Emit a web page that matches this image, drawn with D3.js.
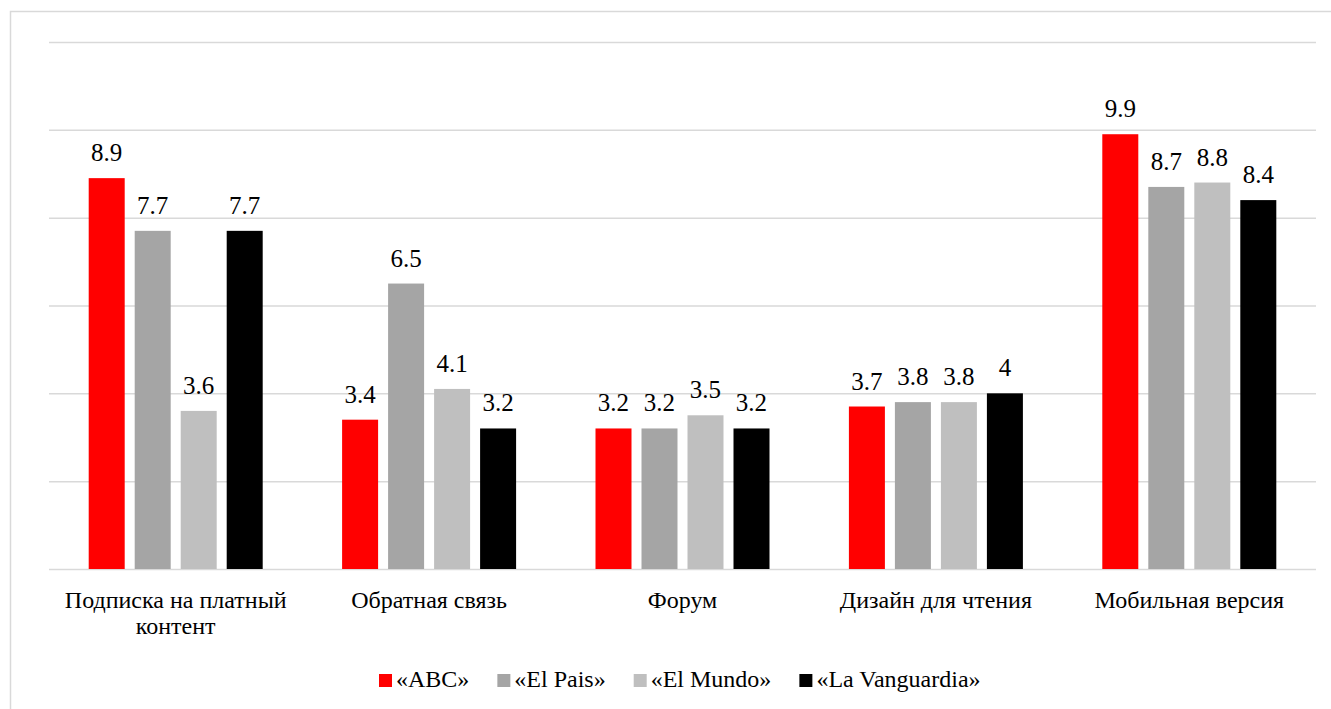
<!DOCTYPE html>
<html>
<head>
<meta charset="utf-8">
<script src="https://cdn.jsdelivr.net/npm/d3@7"></script>
<style>
  body { margin: 0; background: #fff; }
  text { font-family: "Liberation Serif", "Times New Roman", serif; fill: #000; }
</style>
</head>
<body>
<div id="chart" style="width:1331px;height:709px;"></div>
<script>
var categories = ["Подписка на платный контент", "Обратная связь", "Форум", "Дизайн для чтения", "Мобильная версия"];
var seriesNames = ["«ABC»", "«El Pais»", "«El Mundo»", "«La Vanguardia»"];
var seriesColors = ["#FF0000", "#A5A5A5", "#BFBFBF", "#000000"];
var abc = [8.9, 3.4, 3.2, 3.7, 9.9];
var elPais = [7.7, 6.5, 3.2, 3.8, 8.7];
var elMundo = [3.6, 4.1, 3.5, 3.8, 8.8];
var laVanguardia = [7.7, 3.2, 3.2, 4, 8.4];
var yTicks = [0, 2, 4, 6, 8, 10, 12];

var seriesValues = [abc, elPais, elMundo, laVanguardia];
var serif = '"Liberation Serif", "Times New Roman", serif';

var margin = { top: 42, right: 15, bottom: 140, left: 49 };
var W = 1331, H = 709;
var width = W - margin.left - margin.right,
    height = H - margin.top - margin.bottom;

var svg = d3.select("#chart").append("svg")
    .attr("width", W)
    .attr("height", H)
    .attr("font-family", serif);

// outer frame
svg.append("rect")
    .attr("x", 10.5).attr("y", 11.5)
    .attr("width", W).attr("height", H)
    .style("fill", "none")
    .style("stroke", "#D9D9D9")
    .style("stroke-width", 1.5);

var g = svg.append("g")
    .attr("transform", "translate(" + margin.left + "," + margin.top + ")");

var x0 = d3.scaleBand().domain(d3.range(categories.length)).range([0, width]);
var groupHalf = 87;
var x1 = d3.scaleBand().domain(d3.range(seriesNames.length))
    .range([x0.bandwidth() / 2 - groupHalf, x0.bandwidth() / 2 + groupHalf])
    .paddingInner(10 / 46).paddingOuter(0);
var y = d3.scaleLinear().domain([0, 12]).range([height, 0]);

// gridlines
g.append("g").attr("class", "grid")
    .call(d3.axisLeft(y).tickValues(yTicks).tickSize(-width).tickFormat(""))
    .call(function (s) {
        s.select(".domain").remove();
        s.selectAll("line").style("stroke", "#D9D9D9").style("stroke-width", 1.5);
    });

var groups = g.selectAll(".cat")
    .data(categories)
    .enter().append("g")
    .attr("class", "cat")
    .attr("transform", function (d, i) { return "translate(" + x0(i) + ",0)"; });

groups.each(function (c, ci) {
    var gg = d3.select(this);
    var vals = seriesValues.map(function (s, si) { return { si: si, v: s[ci] }; });
    gg.selectAll("rect")
        .data(vals)
        .enter().append("rect")
        .attr("x", function (d) { return x1(d.si); })
        .attr("y", function (d) { return y(d.v); })
        .attr("width", x1.bandwidth())
        .attr("height", function (d) { return height - y(d.v); })
        .style("fill", function (d) { return seriesColors[d.si]; });
    gg.selectAll("text.val")
        .data(vals)
        .enter().append("text")
        .attr("class", "val")
        .attr("x", function (d) { return x1(d.si) + x1.bandwidth() / 2; })
        .attr("y", function (d) { return y(d.v) - 17; })
        .style("text-anchor", "middle")
        .style("font-family", serif)
        .style("font-size", "25px")
        .text(function (d) { return d.v; });
});

// category labels (x axis)
var xAxis = g.append("g")
    .attr("transform", "translate(0," + height + ")")
    .call(d3.axisBottom(x0).tickSize(0).tickFormat(function (i) { return categories[i]; }));
xAxis.attr("font-family", serif).attr("font-size", 24);
xAxis.select(".domain").remove();
xAxis.selectAll("text")
    .style("font-size", "24px")
    .style("font-family", serif)
    .attr("y", 39).attr("dy", 0)
    .each(function () { wrap(d3.select(this), x0.bandwidth() - 10, 26); });

function wrap(text, w, lh) {
    var words = text.text().split(/\s+/), line = [];
    var yy = text.attr("y");
    text.text(null);
    var tspan = text.append("tspan").attr("x", 0).attr("y", yy);
    var n = 0;
    words.forEach(function (word) {
        line.push(word);
        tspan.text(line.join(" "));
        if (tspan.node().getComputedTextLength() > w && line.length > 1) {
            line.pop();
            tspan.text(line.join(" "));
            line = [word];
            n++;
            tspan = text.append("tspan").attr("x", 0).attr("y", +yy + n * lh).text(word);
        }
    });
}

// legend
var legend = svg.append("g").attr("class", "legend");
var lx = 0;
var items = legend.selectAll("g")
    .data(seriesNames)
    .enter().append("g");
items.append("rect")
    .attr("y", -13).attr("width", 13).attr("height", 13)
    .style("fill", function (d, i) { return seriesColors[i]; });
items.append("text")
    .attr("x", 17)
    .style("font-family", serif)
    .style("font-size", "24px")
    .text(function (d) { return d; });
items.each(function () {
    var it = d3.select(this);
    it.attr("transform", "translate(" + lx + ",0)");
    lx += 17 + it.select("text").node().getComputedTextLength() + 28;
});
var legendW = lx - 28;
legend.attr("transform", "translate(" + Math.round(680 - legendW / 2) + ",687)");
</script>
</body>
</html>
